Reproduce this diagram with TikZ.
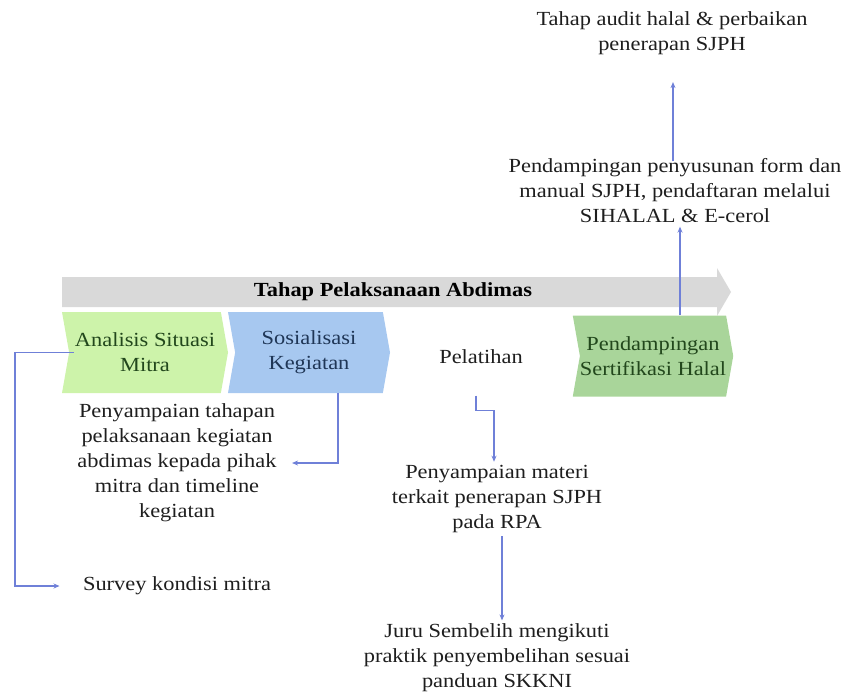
\documentclass[tikz,border=0pt]{standalone}
\usepackage{fontspec}
\setmainfont{Liberation Serif}[FakeStretch=1.12]
\usetikzlibrary{arrows.meta,shapes.symbols}
\definecolor{barGray}{HTML}{D9D9D9}
\definecolor{lightGreen}{HTML}{CDF3AA}
\definecolor{lightBlue}{HTML}{A7C8F0}
\definecolor{midGreen}{HTML}{A9D59A}
\definecolor{linkBlue}{HTML}{6F80D8}
\definecolor{textGray}{HTML}{1E1E1E}
\definecolor{darkGreen}{HTML}{22471C}
\definecolor{darkBlue}{HTML}{1F3656}
\begin{document}
\begin{tikzpicture}[x=1pt, y=-1pt,
  every node/.style={font=\rmfamily\fontsize{20}{25}\selectfont, text=textGray, align=center},
  chevron/.style={shape=signal, signal from=west, signal to=east,
    signal pointer angle=160, minimum height=81pt, inner sep=0pt},
  link/.style={draw=linkBlue, line width=1.6pt, -{Stealth[length=6pt,width=5pt]}}]
  \useasboundingbox (0,0) rectangle (850,693);
  % Stage bar
  \fill[barGray] (62,277) -- (717,277) -- (717,268) -- (731,292)
    -- (717,316) -- (717,307) -- (62,307) -- cycle;
  \node[font=\rmfamily\fontsize{20}{25}\selectfont\bfseries, text=black] (tahap) at (393,292)
    {Tahap Pelaksanaan Abdimas};
  % Stages
  \node[chevron, fill=lightGreen, text=darkGreen, minimum width=166pt] (anal) at (145,352.5)
    {Analisis Situasi\\Mitra};
  \node[chevron, fill=lightBlue, text=darkBlue, minimum width=162pt] (sosi) at (309,352.5)
    {Sosialisasi\\Kegiatan};
  \node (pel) at (481,357) {Pelatihan};
  \node[chevron, fill=midGreen, text=darkGreen, minimum width=160pt] (pend) at (653,356)
    {Pendampingan\\Sertifikasi Halal};
  % Activities
  \node (sampai) at (177,463)
    {Penyampaian tahapan\\pelaksanaan kegiatan\\abdimas kepada pihak\\mitra dan timeline\\kegiatan};
  \node (survey) at (177,586) {Survey kondisi mitra};
  \node (materi) at (497,499)
    {Penyampaian materi\\terkait penerapan SJPH\\pada RPA};
  \node (juru) at (497,658)
    {Juru Sembelih mengikuti\\praktik penyembelihan sesuai\\panduan SKKNI};
  \node (form) at (675,191)
    {Pendampingan penyusunan form dan\\manual SJPH, pendaftaran melalui\\SIHALAL \& E-cerol};
  \node (audit) at (672,33)
    {Tahap audit halal \& perbaikan\\penerapan SJPH};
  % Connectors
  \draw[link] ([xshift=5pt]anal.west) -- ++(-59,0) |- ([xshift=-20pt]survey.west);
  \draw[link] ([xshift=29pt]sosi.south) |- ([xshift=12pt]sampai.east);
  \draw[link] ([xshift=-5pt,yshift=-28pt]pel.south) -- ++(0,15) -| ([xshift=-3pt]materi.north);
  \draw[link] ([xshift=5pt]materi.south) -- ([xshift=5pt]juru.north);
  \draw[link] ([xshift=27pt]pend.north) -- ([xshift=27pt]pend.north |- form.south);
  \draw[link, shorten >=24pt] ([xshift=-2pt,yshift=-6pt]form.north) -- ([xshift=-2pt]form.north |- audit.south);
\end{tikzpicture}
\end{document}
